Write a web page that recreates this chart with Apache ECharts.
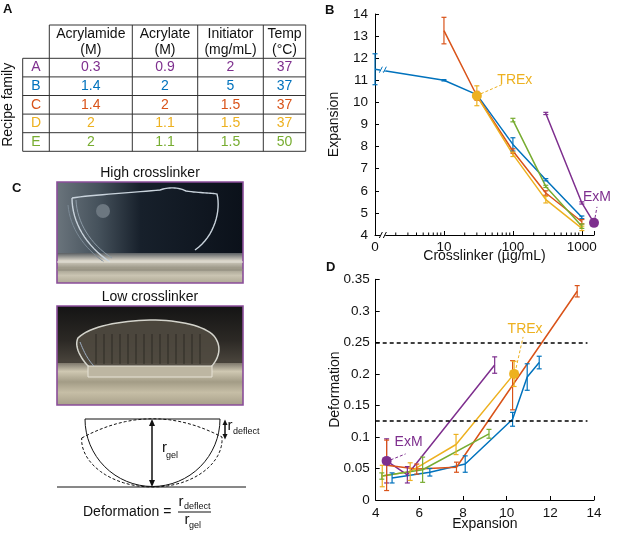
<!DOCTYPE html>
<html>
<head>
<meta charset="utf-8">
<script src="https://cdn.jsdelivr.net/npm/echarts@6/dist/echarts.min.js"></script>
<style>
html, body { margin: 0; padding: 0; background: #fff; }
#chart { width: 617px; height: 537px; }
</style>
</head>
<body>
<div id="chart"></div>
<script>
// ---- table (panel A)
var families = ['A', 'B', 'C', 'D', 'E'];
var familyColors = ['#7E2F8E', '#0072BD', '#D95319', '#EDB120', '#77AC30'];
var tableHeaders = [['Acrylamide', '(M)'], ['Acrylate', '(M)'], ['Initiator', '(mg/mL)'], ['Temp', '(°C)']];
var acrylamide = ['0.3', '1.4', '1.4', '2', '2'];
var acrylate = ['0.9', '2', '2', '1.1', '1.1'];
var initiator = ['2', '5', '1.5', '1.5', '1.5'];
var temp = ['37', '37', '37', '37', '50'];

// ---- panel B: crosslinker (ug/mL) vs expansion. "0" crosslinker is drawn at 1 on the log axis
var crossA = [300, 1000, 1500];
var expA = [9.5, 5.45, 4.55];
var expErrA = [0.05, 0.05, 0];
var crossB = [1, 10, 30, 100, 300, 1000];
var expB = [11.5, 11.0, 10.35, 8.1, 6.5, 4.8];
var expErrB = [0.7, 0.03, 0.1, 0.3, 0.05, 0.06];
var crossC = [10, 30, 100, 300, 1000];
var expC = [13.25, 10.3, 7.8, 5.9, 4.6];
var expErrC = [0.6, 0.2, 0.1, 0.1, 0.1];
var crossD = [30, 100, 300, 1000];
var expD = [10.3, 7.65, 5.6, 4.3];
var expErrD = [0.45, 0.1, 0.15, 0.1];
var crossE = [100, 300, 1000];
var expE = [9.2, 6.2, 4.4];
var expErrE = [0.08, 0.05, 0.1];
var exmB = [1500, 4.55];
var trexB = [30, 10.3];
var crossTicks = [1, 10, 100, 1000];
var crossMinorTicks = [2, 3, 4, 5, 6, 7, 8, 9, 20, 30, 40, 50, 60, 70, 80, 90, 200, 300, 400, 500, 600, 700, 800, 900];

// ---- panel D: expansion vs deformation
var defExpA = [4.5, 5.45, 9.45];
var defA = [0.062, 0.040, 0.214];
var defErrA = [0.035, 0.013, 0.013];
var defExpB = [4.75, 6.48, 8.1, 10.27, 10.94, 11.49];
var defB = [0.035, 0.044, 0.057, 0.128, 0.195, 0.218];
var defErrB = [0.008, 0.006, 0.013, 0.011, 0.021, 0.01];
var defExpC = [4.5, 5.88, 7.7, 10.27, 13.23];
var defC = [0.055, 0.049, 0.052, 0.182, 0.331];
var defErrC = [0.04, 0.008, 0.008, 0.039, 0.009];
var defExpD = [4.3, 5.58, 7.68, 10.34];
var defD = [0.038, 0.045, 0.088, 0.2];
var defErrD = [0.017, 0.014, 0.016, 0.02];
var defExpE = [4.28, 6.15, 9.19];
var defE = [0.038, 0.048, 0.105];
var defErrE = [0.005, 0.02, 0.007];
var exmD = [4.5, 0.062];
var trexD = [10.34, 0.2];
var thresholds = [0.25, 0.125];

var FONT = '"Liberation Sans", Arial, sans-serif';
var chart = echarts.init(document.getElementById('chart'));

function pairs(xs, ys) {
    return xs.map(function (x, i) { return [x, ys[i]]; });
}

function lineSeries(xs, ys, color, idx) {
    return {
        type: 'line', xAxisIndex: idx, yAxisIndex: idx,
        data: pairs(xs, ys), symbol: 'none', showSymbol: false,
        lineStyle: { color: color, width: 1.5 }, itemStyle: { color: color },
        z: 3, silent: true
    };
}

function errSeries(xs, ys, es, color, idx) {
    return {
        type: 'custom', xAxisIndex: idx, yAxisIndex: idx,
        data: xs.map(function (x, i) { return [x, ys[i] - es[i], ys[i] + es[i]]; }),
        encode: { x: 0, y: [1, 2] }, z: 4, silent: true,
        renderItem: function (params, api) {
            var top = api.coord([api.value(0), api.value(2)]);
            var bot = api.coord([api.value(0), api.value(1)]);
            var w = 2.5;
            var st = { stroke: color, lineWidth: 1.2 };
            return {
                type: 'group', children: [
                    { type: 'line', shape: { x1: top[0], y1: top[1], x2: bot[0], y2: bot[1] }, style: st },
                    { type: 'line', shape: { x1: top[0] - w, y1: top[1], x2: top[0] + w, y2: top[1] }, style: st },
                    { type: 'line', shape: { x1: bot[0] - w, y1: bot[1], x2: bot[0] + w, y2: bot[1] }, style: st }
                ]
            };
        }
    };
}

function dotSeries(pt, color, idx) {
    return {
        type: 'scatter', xAxisIndex: idx, yAxisIndex: idx, data: [pt],
        symbol: 'circle', symbolSize: 10, itemStyle: { color: color, opacity: 1 }, z: 6, silent: true
    };
}

var axisLine = { show: true, onZero: false, lineStyle: { color: '#000', width: 1 } };
var axisTick = { show: true, inside: true, length: 4, lineStyle: { color: '#000' } };
var labelStyle = { color: '#111', fontSize: 13.5, fontFamily: FONT };

var series = [];
var bX = [crossA, crossB, crossC, crossD, crossE];
var bY = [expA, expB, expC, expD, expE];
var bE = [expErrA, expErrB, expErrC, expErrD, expErrE];
var dX = [defExpA, defExpB, defExpC, defExpD, defExpE];
var dY = [defA, defB, defC, defD, defE];
var dE = [defErrA, defErrB, defErrC, defErrD, defErrE];
for (var i = 0; i < families.length; i++) {
    series.push(lineSeries(bX[i], bY[i], familyColors[i], 0));
    series.push(errSeries(bX[i], bY[i], bE[i], familyColors[i], 0));
    series.push(lineSeries(dX[i], dY[i], familyColors[i], 1));
    series.push(errSeries(dX[i], dY[i], dE[i], familyColors[i], 1));
}
series.push(dotSeries(exmB, familyColors[0], 0));
series.push(dotSeries(trexB, familyColors[3], 0));
series.push(dotSeries(exmD, familyColors[0], 1));
series.push(dotSeries(trexD, familyColors[3], 1));

// minor ticks of the log axis
series.push({
    type: 'custom', xAxisIndex: 0, yAxisIndex: 0, silent: true, z: 5,
    data: crossMinorTicks.map(function (v) { return [v, 4]; }),
    encode: { x: 0, y: 1 },
    renderItem: function (params, api) {
        var p = api.coord([api.value(0), api.value(1)]);
        return { type: 'line', shape: { x1: p[0], y1: p[1], x2: p[0], y2: p[1] - 2.5 }, style: { stroke: '#000', lineWidth: 1 } };
    }
});

// dashed threshold lines in D
series.push({
    type: 'line', xAxisIndex: 1, yAxisIndex: 1, data: [], silent: true,
    markLine: {
        silent: true, symbol: 'none', label: { show: false },
        lineStyle: { color: '#000', type: [4, 3], width: 1.5 },
        data: thresholds.map(function (t) { return [{ coord: [4, t] }, { coord: [13.7, t] }]; })
    }
});

var option = {
    animation: false,
    textStyle: { fontFamily: FONT },
    grid: [
        { left: 375, top: 14, width: 219, height: 221 },
        { left: 375.7, top: 279.3, width: 218.3, height: 220.7 }
    ],
    xAxis: [
        {
            type: 'log', gridIndex: 0, logBase: 10, min: 1, max: 1500, interval: 1,
            name: 'Crosslinker (µg/mL)', nameLocation: 'middle', nameGap: 14, nameMoveOverlap: false,
            nameTextStyle: { color: '#111', fontSize: 14, fontFamily: FONT },
            axisLine: axisLine, axisTick: axisTick, splitLine: { show: false },
            axisLabel: {
                color: '#111', fontSize: 13.5, fontFamily: FONT, margin: 5,
                formatter: function (v) {
                    if (Math.abs(v - 1) < 1e-9) return '0';
                    for (var k = 0; k < crossTicks.length; k++) {
                        if (Math.abs(v - crossTicks[k]) < 1e-6) return String(crossTicks[k]);
                    }
                    return '';
                }
            }
        },
        {
            type: 'value', gridIndex: 1, min: 4, max: 14, interval: 2,
            name: 'Expansion', nameLocation: 'middle', nameGap: 17, nameMoveOverlap: false,
            nameTextStyle: { color: '#111', fontSize: 14, fontFamily: FONT },
            axisLine: axisLine, axisTick: axisTick, splitLine: { show: false },
            axisLabel: Object.assign({ margin: 6 }, labelStyle)
        }
    ],
    yAxis: [
        {
            type: 'value', gridIndex: 0, min: 4, max: 14, interval: 1,
            name: 'Expansion', nameLocation: 'middle', nameGap: 34, nameMoveOverlap: false,
            nameTextStyle: { color: '#111', fontSize: 14, fontFamily: FONT },
            axisLine: axisLine, axisTick: axisTick, splitLine: { show: false },
            axisLabel: Object.assign({ margin: 7 }, labelStyle)
        },
        {
            type: 'value', gridIndex: 1, min: 0, max: 0.35, interval: 0.05,
            name: 'Deformation', nameLocation: 'middle', nameGap: 34, nameMoveOverlap: false,
            nameTextStyle: { color: '#111', fontSize: 14, fontFamily: FONT },
            axisLine: axisLine, axisTick: axisTick, splitLine: { show: false },
            axisLabel: Object.assign({ margin: 6 }, labelStyle)
        }
    ],
    series: series
};
chart.setOption(option);

// ---- graphics: table, photos, schematic, annotations
function txt(x, y, s, o) {
    o = o || {};
    var align = o.align || 'center', va = o.va || 'middle';
    return {
        type: 'text', x: x, y: y, rotation: o.rot || 0, silent: true, z: 20,
        style: {
            text: s, fill: o.color || '#111',
            font: (o.bold ? 'bold ' : '') + (o.size || 14) + 'px ' + FONT,
            textAlign: align, textVerticalAlign: va, align: align, verticalAlign: va
        }
    };
}
function seg(x1, y1, x2, y2, color, w, dash) {
    return {
        type: 'line', silent: true, z: 20,
        shape: { x1: x1, y1: y1, x2: x2, y2: y2 },
        style: { stroke: color || '#222', lineWidth: w || 1, lineDash: dash || null }
    };
}
// sample cubic bezier pieces [c1x, c1y, c2x, c2y, ex, ey] into points
function bez(start, curves) {
    var pts = [start.slice()], cur = start;
    curves.forEach(function (c) {
        for (var k = 1; k <= 16; k++) {
            var t = k / 16, u = 1 - t;
            pts.push([
                u * u * u * cur[0] + 3 * u * u * t * c[0] + 3 * u * t * t * c[2] + t * t * t * c[4],
                u * u * u * cur[1] + 3 * u * u * t * c[1] + 3 * u * t * t * c[3] + t * t * t * c[5]
            ]);
        }
        cur = [c[4], c[5]];
    });
    return pts;
}
function curve(pts, stroke, w, dash, z) {
    return {
        type: 'polyline', silent: true, z: z || 20, shape: { points: pts },
        style: { stroke: stroke, lineWidth: w || 1, fill: null, lineDash: dash || null }
    };
}
function blob(pts, fill, stroke, w, z) {
    return {
        type: 'polygon', silent: true, z: z || 14, shape: { points: pts },
        style: { fill: fill, stroke: stroke, lineWidth: w || 1 }
    };
}
function rect(x, y, w, h, fill, stroke, lw, z) {
    return {
        type: 'rect', silent: true, z: z || 15, shape: { x: x, y: y, width: w, height: h },
        style: { fill: fill || 'none', stroke: stroke || 'none', lineWidth: lw || 1 }
    };
}
function tri(pts, color) {
    return { type: 'polygon', silent: true, z: 21, shape: { points: pts }, style: { fill: color } };
}
var G = echarts.graphic;

var g = [];
// panel letters
g.push(txt(3, 3, 'A', { bold: true, size: 13, align: 'left', va: 'top' }));
g.push(txt(325, 4, 'B', { bold: true, size: 13, align: 'left', va: 'top' }));
g.push(txt(12, 182, 'C', { bold: true, size: 13, align: 'left', va: 'top' }));
g.push(txt(326, 261, 'D', { bold: true, size: 13, align: 'left', va: 'top' }));

// table
var tx0 = 22.7, tcols = [49.3, 132.3, 197.7, 263.3, 305.7], ttop = 25, thead = 58.3, trow = 18.6;
var tbottom = thead + trow * families.length;
g.push(seg(tcols[0], ttop, tcols[4], ttop, '#333'));
for (var r = 0; r <= families.length; r++) {
    g.push(seg(tx0, thead + r * trow, tcols[4], thead + r * trow, '#333'));
}
g.push(seg(tx0, thead, tx0, tbottom, '#333'));
tcols.forEach(function (cx) { g.push(seg(cx, ttop, cx, tbottom, '#333')); });
tableHeaders.forEach(function (h, c) {
    var cx = (tcols[c] + tcols[c + 1]) / 2;
    g.push(txt(cx, 34, h[0]));
    g.push(txt(cx, 50, h[1]));
});
var cols = [acrylamide, acrylate, initiator, temp];
families.forEach(function (f, r) {
    var cy = thead + trow * (r + 0.5);
    g.push(txt((tx0 + tcols[0]) / 2, cy, f, { color: familyColors[r] }));
    cols.forEach(function (col, c) {
        g.push(txt((tcols[c] + tcols[c + 1]) / 2, cy, col[r], { color: familyColors[r] }));
    });
});
g.push(txt(8, (thead + tbottom) / 2, 'Recipe family', { rot: Math.PI / 2 }));

// photo 1: high crosslinker
g.push(txt(150, 173, 'High crosslinker'));
g.push({ type: 'rect', silent: true, z: 12, shape: { x: 57, y: 182, width: 186, height: 101 },
    style: { fill: new G.LinearGradient(0, 0, 1, 0, [
        { offset: 0, color: '#6a747c' }, { offset: 0.22, color: '#46525c' },
        { offset: 0.45, color: '#17202b' }, { offset: 1, color: '#0b111a' }]) } });
g.push({ type: 'rect', silent: true, z: 13, shape: { x: 57, y: 253, width: 186, height: 30 },
    style: { fill: new G.LinearGradient(0, 0, 0, 1, [
        { offset: 0, color: '#5a5e62' }, { offset: 0.25, color: '#d6d2c6' },
        { offset: 0.5, color: '#9c9888' }, { offset: 0.75, color: '#cac4b2' }, { offset: 1, color: '#b0aa96' }]) } });
g.push(seg(57, 262, 243, 262, '#e8e6dc', 1));
g.push(seg(57, 270, 243, 270, '#8c887a', 1));
g.push({ type: 'circle', silent: true, z: 14, shape: { cx: 103, cy: 211, r: 7 }, style: { fill: '#6c7780' } });
g.push(curve(bez([72, 198], [[90, 195, 140, 192, 160, 190], [168, 187, 178, 187, 186, 191], [200, 193, 212, 193, 217, 194], [221, 210, 215, 236, 195, 250]]), '#c9d3dc', 1.4, null, 16));
g.push(curve(bez([72, 198], [[72, 222, 86, 246, 110, 262]]), '#c9d3dc', 1.4, null, 16));
g.push(curve(bez([76, 200], [[77, 222, 90, 244, 112, 258]]), '#8c9aa6', 1, null, 16));
g.push(curve(bez([68, 205], [[70, 228, 84, 248, 104, 262]]), '#7c8a96', 1, null, 16));
g.push(rect(57, 182, 186, 101, 'none', '#8a4e9a', 1.6, 17));

// photo 2: low crosslinker
g.push(txt(150, 297, 'Low crosslinker'));
g.push({ type: 'rect', silent: true, z: 12, shape: { x: 57, y: 306, width: 186, height: 99 },
    style: { fill: new G.LinearGradient(0, 0, 0, 1, [
        { offset: 0, color: '#141414' }, { offset: 0.35, color: '#2c2925' },
        { offset: 0.55, color: '#47423a' }, { offset: 1, color: '#3a362e' }]) } });
g.push({ type: 'rect', silent: true, z: 13, shape: { x: 57, y: 363, width: 186, height: 42 },
    style: { fill: new G.LinearGradient(0, 0, 0, 1, [
        { offset: 0, color: '#7e786c' }, { offset: 0.2, color: '#cfc8b2' },
        { offset: 0.45, color: '#a39c86' }, { offset: 0.7, color: '#c6bea6' }, { offset: 1, color: '#a8a08a' }]) } });
g.push(blob(bez([90, 368], [[80, 358, 74, 346, 78, 338], [90, 326, 120, 321, 150, 320], [180, 320, 205, 326, 214, 336], [222, 346, 220, 358, 210, 368]]), 'rgba(80,74,64,0.9)', '#d4d4cc', 1.5, 14));
for (var vx = 96; vx < 208; vx += 8) {
    g.push(seg(vx, 334, vx, 364, 'rgba(20,18,16,0.55)', 1));
}
g.push(curve(bez([80, 342], [[84, 352, 88, 360, 94, 366]]), '#9fb0c4', 1));
g.push(rect(88, 366, 124, 11, '#bdb6a2', '#e6e2d6', 1, 15));
g.push(rect(57, 306, 186, 99, 'none', '#8a4e9a', 1.6, 17));

// schematic
g.push(seg(85, 419, 220, 419, '#111', 1));
g.push({ type: 'arc', silent: true, z: 20, shape: { cx: 152.5, cy: 419, r: 67.5, startAngle: 0, endAngle: Math.PI, clockwise: true },
    style: { stroke: '#111', lineWidth: 1, fill: null } });
g.push(curve(bez([81.7, 438], [[128.4, 412.7, 175.1, 412.3, 222, 437], [224, 462, 195, 487, 152.5, 487], [110, 487, 80, 462, 81.7, 438]]), '#111', 1, [3, 2]));
g.push(seg(57, 487, 246, 487, '#111', 1));
g.push(seg(152, 423, 152, 483, '#111', 1.5));
g.push(tri([[152, 419], [149, 426], [155, 426]], '#111'));
g.push(tri([[152, 487], [149, 480], [155, 480]], '#111'));
g.push(seg(225, 423, 225, 436, '#111', 1.5));
g.push(tri([[225, 419.5], [222.5, 425], [227.5, 425]], '#111'));
g.push(tri([[225, 439.5], [222.5, 434], [227.5, 434]], '#111'));
g.push(txt(164.5, 448, 'r', { size: 15 }));
g.push(txt(166, 456, 'gel', { size: 9, align: 'left' }));
g.push(txt(230, 426, 'r', { size: 15 }));
g.push(txt(233, 432, 'deflect', { size: 9, align: 'left' }));
g.push(txt(83, 512, 'Deformation =', { align: 'left' }));
g.push(txt(181, 502, 'r', { size: 15 }));
g.push(txt(184, 507, 'deflect', { size: 9, align: 'left' }));
g.push(seg(178, 512, 211, 512, '#111', 1));
g.push(txt(187, 520, 'r', { size: 15 }));
g.push(txt(189, 526, 'gel', { size: 9, align: 'left' }));

// annotations tied to the data points
var pTB = chart.convertToPixel({ gridIndex: 0 }, trexB);
var pEB = chart.convertToPixel({ gridIndex: 0 }, exmB);
var pTD = chart.convertToPixel({ gridIndex: 1 }, trexD);
var pED = chart.convertToPixel({ gridIndex: 1 }, exmD);
g.push(seg(pTB[0] + 4, pTB[1] - 2, pTB[0] + 27, pTB[1] - 12, familyColors[3], 1, [3, 2]));
g.push(txt(pTB[0] + 38, pTB[1] - 16, 'TREx', { color: familyColors[3] }));
g.push(seg(pEB[0] + 1, pEB[1] - 5, pEB[0] + 3, pEB[1] - 16, familyColors[0], 1, [3, 2]));
g.push(txt(pEB[0] + 3, pEB[1] - 26, 'ExM', { color: familyColors[0] }));
g.push(seg(pTD[0] + 2, pTD[1] - 6, pTD[0] + 9, pTD[1] - 37, familyColors[3], 1, [3, 2]));
g.push(txt(pTD[0] + 11, pTD[1] - 45, 'TREx', { color: familyColors[3] }));
g.push(seg(pED[0] + 4, pED[1] - 1, pED[0] + 19, pED[1] - 7, familyColors[0], 1, [3, 2]));
g.push(txt(pED[0] + 22, pED[1] - 19, 'ExM', { color: familyColors[0] }));

// axis break marks "//" on the crosslinker axis and on the blue line
var pBreakAxis = chart.convertToPixel({ gridIndex: 0 }, [1.3, 4]);
var pBreakLine = chart.convertToPixel({ gridIndex: 0 }, [1.3, 11.48]);
[[pBreakAxis, '#000'], [pBreakLine, familyColors[1]]].forEach(function (b) {
    var p = b[0];
    g.push(rect(p[0] - 2.5, p[1] - 1.5, 5, 3, '#fff', 'none', 1, 19));
    g.push(seg(p[0] - 3.5, p[1] + 3, p[0] - 0.5, p[1] - 3, b[1], 1));
    g.push(seg(p[0] + 0.5, p[1] + 3, p[0] + 3.5, p[1] - 3, b[1], 1));
});

chart.setOption({ graphic: g });
</script>
</body>
</html>
